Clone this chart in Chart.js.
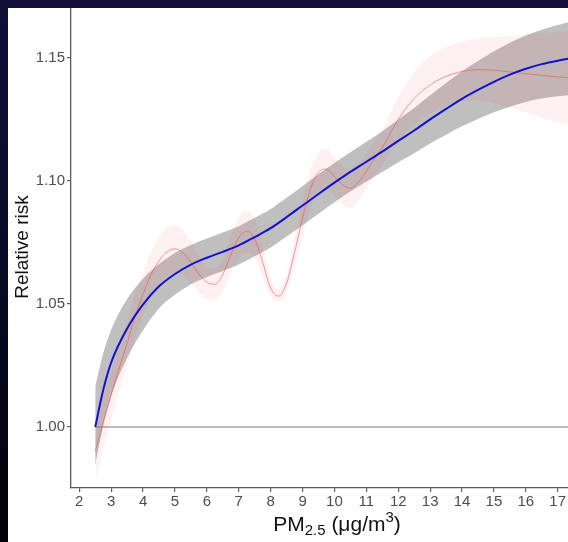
<!DOCTYPE html>
<html>
<head>
<meta charset="utf-8">
<script src="https://cdn.jsdelivr.net/npm/chart.js@4.4.1/dist/chart.umd.min.js"></script>
<style>
  html, body { margin: 0; padding: 0; width: 568px; height: 542px; overflow: hidden; }
  body { position: relative; background: linear-gradient(to bottom, #0f0f38 0%, #0a0a28 45%, #020208 100%); }
  #panel { position: absolute; left: 8px; top: 8px; width: 620px; height: 534px; background: #fff; }
</style>
</head>
<body>
<div id="panel"><canvas id="rr" width="620" height="534"></canvas></div>
<script>
// smooth fit (blue) with its band
const smoothX = [2.5, 2.75, 3, 3.5, 4, 4.5, 5, 5.5, 6, 6.5, 7, 7.5, 8, 8.5, 9, 9.5, 10,
  10.5, 11, 11.5, 12, 12.5, 13, 13.5, 14, 14.5, 15, 15.5, 16, 16.5, 17, 17.5];
const smoothRR = [1.000, 1.015, 1.0262, 1.0400, 1.0498, 1.0572, 1.0622, 1.0660, 1.0688, 1.0712,
  1.0738, 1.0772, 1.0808, 1.0853, 1.0900, 1.0947, 1.0993, 1.1037, 1.1078, 1.1119, 1.1163,
  1.1205, 1.1250, 1.1293, 1.1334, 1.1370, 1.1403, 1.1432, 1.1456, 1.1475, 1.1489, 1.1500];
const smoothUpper = [1.0164, 1.0300, 1.0395, 1.0520, 1.0603, 1.0662, 1.0707, 1.0740, 1.0766, 1.0790,
  1.0816, 1.0850, 1.0886, 1.0932, 1.0980, 1.1027, 1.1073, 1.1117, 1.1159, 1.1202, 1.1250,
  1.1297, 1.1348, 1.1398, 1.1446, 1.1488, 1.1527, 1.1562, 1.1591, 1.1615, 1.1634, 1.1650];
const smoothLower = [0.9846, 1.0005, 1.0125, 1.0280, 1.0393, 1.0482, 1.0537, 1.0580, 1.0610, 1.0634,
  1.0660, 1.0694, 1.0730, 1.0774, 1.0820, 1.0867, 1.0913, 1.0957, 1.0997, 1.1036, 1.1076,
  1.1113, 1.1152, 1.1188, 1.1222, 1.1252, 1.1279, 1.1302, 1.1321, 1.1335, 1.1344, 1.1350];

// wiggly spline (red) with its band
const splineX = [2.5, 2.75, 3, 3.25, 3.5, 3.75, 4, 4.25, 4.5, 4.75, 5, 5.25, 5.5, 5.75, 6, 6.25,
  6.5, 6.75, 7, 7.25, 7.5, 7.75, 8, 8.25, 8.5, 8.75, 9, 9.25, 9.5, 9.75, 10, 10.25, 10.5, 10.75,
  11, 11.25, 11.5, 12, 12.5, 13, 13.5, 14, 14.5, 15, 15.5, 16, 16.5, 17, 17.5];
const splineRR = [0.990, 1.002, 1.013, 1.024, 1.034, 1.045, 1.054, 1.062, 1.0675, 1.0712, 1.0724,
  1.0708, 1.0670, 1.0622, 1.0588, 1.0580, 1.0620, 1.0700, 1.0770, 1.0795, 1.0765, 1.0670, 1.0565,
  1.0532, 1.0585, 1.0710, 1.0850, 1.0968, 1.1035, 1.1048, 1.1018, 1.0985, 1.0970, 1.0995, 1.1040,
  1.1090, 1.1135, 1.1250, 1.1335, 1.1390, 1.1425, 1.1445, 1.1452, 1.1450, 1.1443, 1.1436, 1.1429,
  1.1423, 1.1418];
const splineUpper = [1.002, 1.013, 1.023, 1.0335, 1.043, 1.054, 1.063, 1.0712, 1.0770, 1.0809, 1.0821,
  1.0800, 1.0755, 1.0697, 1.0656, 1.0646, 1.0688, 1.0778, 1.0856, 1.0883, 1.0845, 1.0730, 1.0600,
  1.0557, 1.0620, 1.0765, 1.0920, 1.1046, 1.1115, 1.1128, 1.1098, 1.1065, 1.1050, 1.1071, 1.1112,
  1.1162, 1.1210, 1.1340, 1.1443, 1.1508, 1.1545, 1.1567, 1.1578, 1.1585, 1.1588, 1.1594, 1.1601,
  1.1607, 1.1613];
const splineLower = [0.978, 0.991, 1.003, 1.0145, 1.025, 1.036, 1.045, 1.0528, 1.0580, 1.0615, 1.0627,
  1.0616, 1.0585, 1.0547, 1.0520, 1.0514, 1.0552, 1.0622, 1.0684, 1.0707, 1.0685, 1.0610, 1.0530,
  1.0507, 1.0550, 1.0655, 1.0780, 1.0890, 1.0955, 1.0968, 1.0938, 1.0905, 1.0890, 1.0919, 1.0968,
  1.1018, 1.1060, 1.1160, 1.1227, 1.1272, 1.1305, 1.1323, 1.1326, 1.1315, 1.1298, 1.1278, 1.1257,
  1.1239, 1.1223];

const refX = [2.5, 18.5];
const refY = [1, 1];

const xTicks = [2, 3, 4, 5, 6, 7, 8, 9, 10, 11, 12, 13, 14, 15, 16, 17, 18];
const yTicks = [1.00, 1.05, 1.10, 1.15];
const yTitle = 'Relative risk';

const FONT = '"Liberation Sans", Arial, sans-serif';
const pts = (xs, ys) => xs.map((x, i) => ({ x: x, y: ys[i] }));

const band = (data, extra) => Object.assign({
  data: data, borderWidth: 0, borderColor: 'transparent', pointRadius: 0,
  cubicInterpolationMode: 'monotone', fill: false
}, extra);

// x title has a subscript and a superscript, so draw it by hand
const axisTitles = {
  id: 'axisTitles',
  afterDraw(chart) {
    const ctx = chart.ctx;
    ctx.save();
    ctx.fillStyle = '#111';
    ctx.font = '19px ' + FONT;
    ctx.translate(20, 239);
    ctx.rotate(-Math.PI / 2);
    ctx.textAlign = 'center';
    ctx.textBaseline = 'alphabetic';
    ctx.fillText(yTitle, 0, 0);
    ctx.restore();

    const big = '21px ' + FONT, small = '15px ' + FONT;
    const parts = [
      { t: 'PM', f: big, dy: 0 },
      { t: '2.5', f: small, dy: 4 },
      { t: ' (\u03bcg/m', f: big, dy: 0 },
      { t: '3', f: small, dy: -9 },
      { t: ')', f: big, dy: 0 }
    ];
    ctx.save();
    ctx.fillStyle = '#111';
    ctx.textBaseline = 'alphabetic';
    ctx.textAlign = 'left';
    let total = 0;
    parts.forEach(p => { ctx.font = p.f; p.w = ctx.measureText(p.t).width; total += p.w; });
    let x = 329 - total / 2;
    parts.forEach(p => { ctx.font = p.f; ctx.fillText(p.t, x, 523 + p.dy); x += p.w; });
    ctx.restore();
  }
};

const axisStyle = {
  border: { color: '#5a5a5a', width: 1.3 },
  grid: { drawOnChartArea: false, drawTicks: true, tickLength: 4, color: '#5a5a5a', lineWidth: 1.2 }
};

new Chart(document.getElementById('rr'), {
  type: 'line',
  data: {
    datasets: [
      band(pts(smoothX, smoothUpper), { order: 5 }),
      band(pts(smoothX, smoothLower), { order: 5, fill: '-1', backgroundColor: 'rgba(0,0,0,0.25)' }),
      band(pts(splineX, splineUpper), { order: 3 }),
      band(pts(splineX, splineLower), { order: 3, fill: '-1', backgroundColor: 'rgba(255,0,0,0.055)' }),
      { data: pts(refX, refY), borderColor: '#7a7a7a', borderWidth: 1, pointRadius: 0, order: 2 },
      { data: pts(splineX, splineRR), borderColor: 'rgba(240,80,80,0.6)', borderWidth: 1,
        pointRadius: 0, cubicInterpolationMode: 'monotone', order: 1 },
      { data: pts(smoothX, smoothRR), borderColor: '#1212cc', borderWidth: 2,
        pointRadius: 0, cubicInterpolationMode: 'monotone', order: 0 }
    ]
  },
  options: {
    responsive: false,
    animation: false,
    devicePixelRatio: 1,
    layout: { padding: { left: 0, right: 25, top: 0, bottom: 0 } },
    plugins: { legend: { display: false }, tooltip: { enabled: false } },
    scales: {
      x: Object.assign({
        type: 'linear', min: 1.74, max: 18.42,
        afterBuildTicks: s => { s.ticks = xTicks.map(v => ({ value: v })); },
        afterFit: s => { s.height = 54; s.paddingLeft = s.paddingRight = s.paddingTop = s.paddingBottom = 0; },
        ticks: { color: '#4d4d4d', font: { family: FONT, size: 15 }, padding: 1,
          maxRotation: 0, autoSkip: false, callback: v => String(v) }
      }, axisStyle),
      y: Object.assign({
        type: 'linear', min: 0.9752, max: 1.1703,
        afterBuildTicks: s => { s.ticks = yTicks.map(v => ({ value: v })); },
        afterFit: s => { s.width = 63; s.paddingLeft = s.paddingRight = s.paddingTop = s.paddingBottom = 0; },
        ticks: { color: '#4d4d4d', font: { family: FONT, size: 15 }, padding: 2,
          callback: v => v.toFixed(2) }
      }, axisStyle)
    }
  },
  plugins: [axisTitles]
});
</script>
</body>
</html>
